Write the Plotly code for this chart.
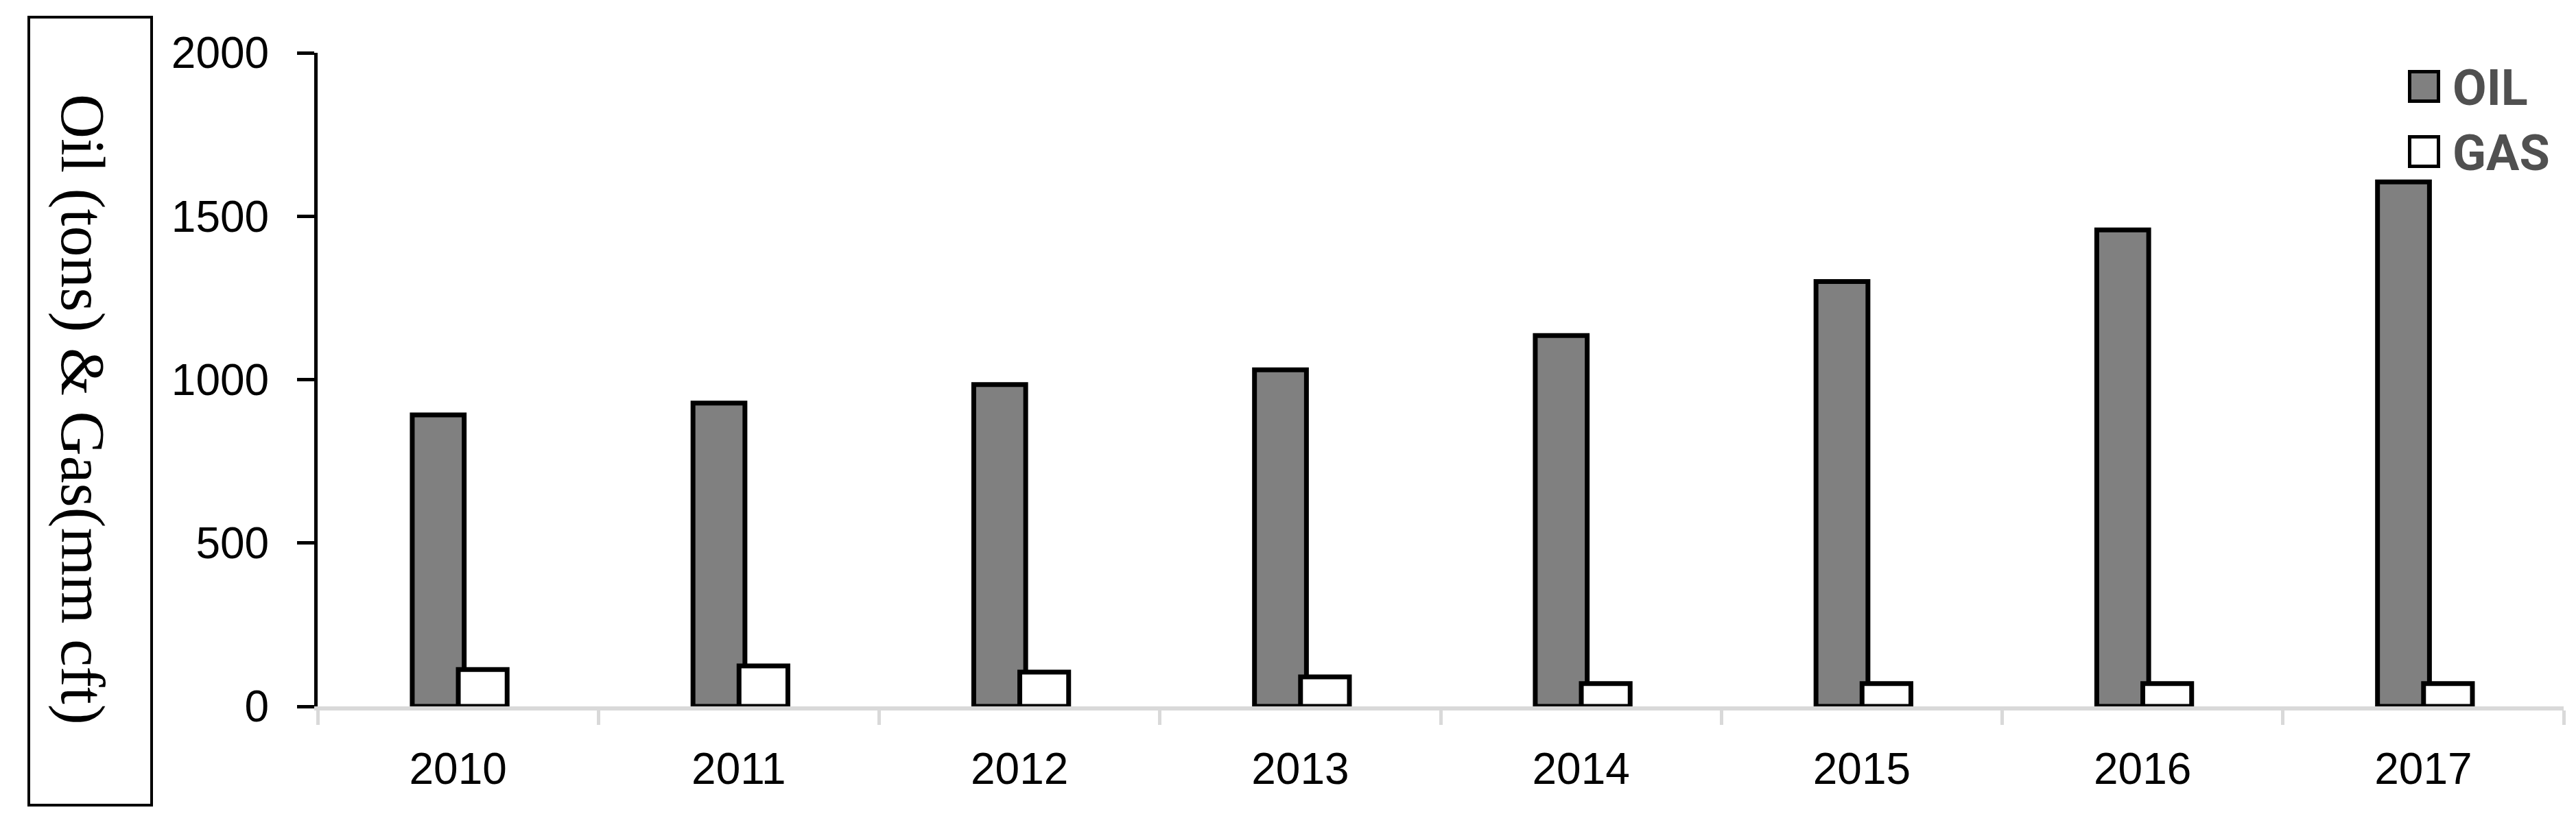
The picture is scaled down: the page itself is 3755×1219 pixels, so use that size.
import plotly.graph_objects as go

# ---- data ----
years = ["2010", "2011", "2012", "2013", "2014", "2015", "2016", "2017"]
oil = [892, 928, 985, 1030, 1135, 1300, 1458, 1605]
gas = [113, 124, 105, 90, 70, 70, 70, 70]
series_names = ["OIL", "GAS"]
y_ticks = [0, 500, 1000, 1500, 2000]
y_title = "Oil (tons) & Gas(mm cft)"

# ---- layout geometry (screen pixels; the page body adds an 8px margin) ----
OFF = 8
W, H = 3755 - 2 * OFF, 1219 - 2 * OFF
L, R, T, B = 463 - OFF, 3737 - OFF, 77 - OFF, 1030 - OFF


def px(x):
    return (x - OFF - L) / (R - L)


def py(y):
    return (B - (y - OFF)) / (B - T)


fig = go.Figure()
fig.add_trace(go.Bar(
    x=years, y=oil, name=series_names[0],
    marker=dict(color="#808080", line=dict(color="black", width=7)),
    offset=-0.163, width=0.185,
))
fig.add_trace(go.Bar(
    x=years, y=gas, name=series_names[1],
    marker=dict(color="white", line=dict(color="black", width=7)),
    offset=0.001, width=0.174,
))

tick_font = dict(family="Liberation Sans, Arial, sans-serif", size=64, color="black")

fig.update_layout(
    width=W, height=H,
    margin=dict(l=L, r=W - R, t=T, b=H - B, pad=0),
    paper_bgcolor="white", plot_bgcolor="white",
    showlegend=False,
    barmode="overlay",
    xaxis=dict(
        type="category", categoryorder="array", categoryarray=years,
        showline=True, linecolor="#d9d9d9", linewidth=6,
        ticks="outside", tickson="boundaries", ticklen=21, tickwidth=5, tickcolor="#d9d9d9",
        showgrid=False, zeroline=False,
        tickfont=tick_font, ticklabelstandoff=30,
    ),
    yaxis=dict(
        range=[0, 2000], tickvals=y_ticks, ticktext=[str(v) for v in y_ticks],
        showline=True, linecolor="black", linewidth=5,
        ticks="outside", ticklen=25, tickwidth=5, tickcolor="black",
        showgrid=False, zeroline=False,
        tickfont=tick_font, ticklabelstandoff=28,
    ),
)

# y-axis title box
fig.add_shape(type="rect", xref="paper", yref="paper",
              x0=px(42), x1=px(221), y0=py(25), y1=py(1174),
              line=dict(color="black", width=4), fillcolor="rgba(0,0,0,0)")
fig.add_annotation(xref="paper", yref="paper", x=px(120), y=py(597),
                   text=y_title, textangle=90, showarrow=False,
                   xanchor="center", yanchor="middle",
                   font=dict(family="Liberation Serif, Times New Roman, serif", size=90, color="black"))

# legend (manual)
legend_font = dict(family="Liberation Sans Narrow, Roboto, Liberation Sans, sans-serif",
                   size=72, color="#505050", weight="bold")
fills = ["#808080", "white"]
rows = [(104.5, 147.5), (199.5, 242.5)]
for name, fill, (y0, y1) in zip(series_names, fills, rows):
    fig.add_shape(type="rect", xref="paper", yref="paper",
                  x0=px(3512.5), x1=px(3554.5), y0=py(y0), y1=py(y1),
                  line=dict(color="black", width=5), fillcolor=fill)
    fig.add_annotation(xref="paper", yref="paper", x=px(3573), y=py((y0 + y1) / 2 + 2),
                       text=name, showarrow=False, xanchor="left", yanchor="middle",
                       font=legend_font)

fig.write_html("out.html")
